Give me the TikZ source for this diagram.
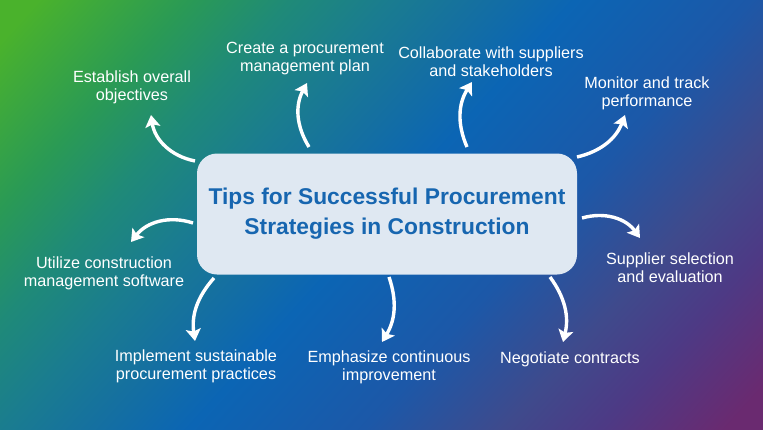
\documentclass[tikz,border=0pt]{standalone}
\usepackage{fontspec}
\setmainfont{Liberation Sans}
\usetikzlibrary{arrows.meta}
\definecolor{bggreen}{HTML}{4AB22C}
\definecolor{bgleaf}{HTML}{2A9A55}
\definecolor{bgsea}{HTML}{1F8A78}
\definecolor{bgteal}{HTML}{1A7C90}
\definecolor{bgcyan}{HTML}{1570A0}
\definecolor{bgblue}{HTML}{0B65B4}
\definecolor{bgnavy}{HTML}{1C58A8}
\definecolor{bgindigo}{HTML}{3F4A8C}
\definecolor{bgviolet}{HTML}{4D3A85}
\definecolor{bgpurple}{HTML}{6A2A70}
\definecolor{hubfill}{HTML}{DFE8F2}
\definecolor{hubtext}{HTML}{1766B0}
\pgfdeclarehorizontalshading{bgshade}{100bp}{color(0bp)=(bggreen); color(17bp)=(bggreen); color(26.3bp)=(bgleaf); color(32.5bp)=(bgsea); color(38.7bp)=(bgteal); color(44bp)=(bgcyan); color(50bp)=(bgblue); color(60.8bp)=(bgnavy); color(69.4bp)=(bgindigo); color(75.3bp)=(bgviolet); color(83bp)=(bgpurple); color(100bp)=(bgpurple)}
\tikzset{>={Stealth[length=12pt,width=15pt,inset=2.5pt]}}
\tikzset{
  hubbox/.style={fill=hubfill, rounded corners=20pt, minimum width=380pt, minimum height=121pt,
    text=hubtext, align=center, font=\bfseries\fontsize{22.8}{30}\selectfont},
  tiplabel/.style={text=white, align=center, font=\fontsize{16.2}{18}\selectfont},
  tiparrow/.style={->, white, line width=3.4pt}
}

\begin{document}
\begin{tikzpicture}[x=1pt,y=-1pt]
\useasboundingbox (0,0) rectangle (763,429);
\shade[shading=bgshade, shading angle=-42] (0,0) rectangle (763,429);
\node[hubbox] (hub) at (387,214) {Tips for Successful Procurement\\Strategies in Construction};
    \node[tiplabel] (objectives) at (132,87.5) {Establish overall\\objectives};
    \node[tiplabel] (plan) at (305,58.5) {Create a procurement\\management plan};
    \node[tiplabel] (collab) at (491,61.5) {Collaborate with suppliers\\and stakeholders};
    \node[tiplabel] (monitor) at (647,93.5) {Monitor and track\\performance};
    \node[tiplabel] (supplier) at (670,268) {Supplier selection\\and evaluation};
    \node[tiplabel] (negotiate) at (570,359) {Negotiate contracts};
    \node[tiplabel] (improve) at (389,367.5) {Emphasize continuous\\improvement};
    \node[tiplabel] (sustain) at (196,366.5) {Implement sustainable\\procurement practices};
    \node[tiplabel] (software) at (104,273.5) {Utilize construction\\management software};
    \coordinate (s1) at (195,161); \coordinate (e1) at (151,115);
    \coordinate (s2) at (309,147); \coordinate (e2) at (307,83);
    \coordinate (s3) at (467,147); \coordinate (e3) at (472,82);
    \coordinate (s4) at (577,157); \coordinate (e4) at (625,115);
    \coordinate (s5) at (582,218); \coordinate (e5) at (640,238);
    \coordinate (s6) at (550,277); \coordinate (e6) at (563,342);
    \coordinate (s7) at (389,277); \coordinate (e7) at (382,342);
    \coordinate (s8) at (214,278); \coordinate (e8) at (195,341);
    \coordinate (s9) at (193,223); \coordinate (e9) at (131,242);
    \draw[tiparrow] (s1) to[bend left=35] (e1);
    \draw[tiparrow] (s2) to[bend left=30] (e2);
    \draw[tiparrow] (s3) to[bend left=28] (e3);
    \draw[tiparrow] (s4) to[bend right=28] (e4);
    \draw[tiparrow] (s5) to[bend left=35] (e5);
    \draw[tiparrow] (s6) to[bend left=25] (e6);
    \draw[tiparrow] (s7) to[bend left=25] (e7);
    \draw[tiparrow] (s8) to[bend right=25] (e8);
    \draw[tiparrow] (s9) to[bend right=35] (e9);
\end{tikzpicture}
\end{document}
